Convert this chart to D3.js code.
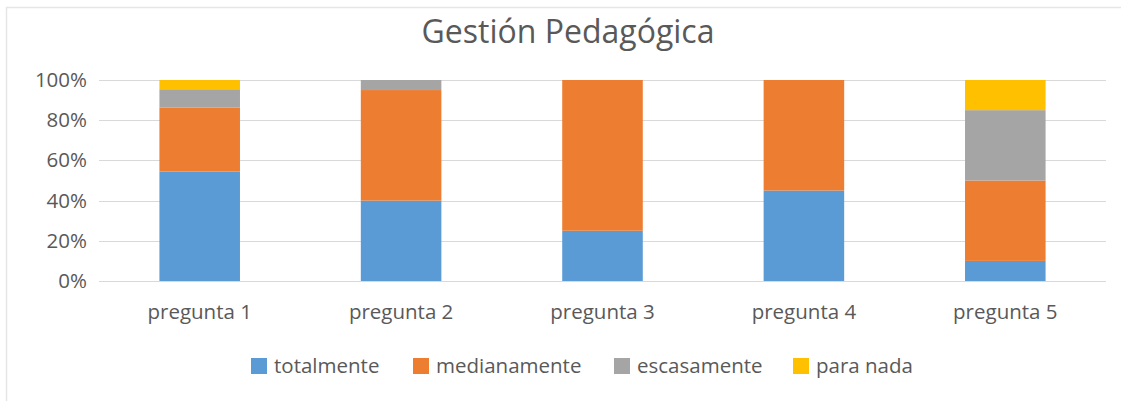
<!DOCTYPE html>
<html>
<head>
<meta charset="utf-8">
<script src="https://cdn.jsdelivr.net/npm/d3@7"></script>
<style>
  body { margin: 0; background: #fff; }
  text { font-family: "Open Sans", "Noto Sans", sans-serif; fill: #595959; }
</style>
</head>
<body>
<div id="grafica"></div>
<script>
// datos
const titulo = "Gestión Pedagógica";
const preguntas = ["pregunta 1", "pregunta 2", "pregunta 3", "pregunta 4", "pregunta 5"];
const series = ["totalmente", "medianamente", "escasamente", "para nada"];
const totalmente   = [54.5, 40, 25, 45, 10];
const medianamente = [31.8, 55, 75, 55, 40];
const escasamente  = [9.1, 5, 0, 0, 35];
const paraNada     = [4.6, 0, 0, 0, 15];
const yTicks = [0, 20, 40, 60, 80, 100];

const colores = ["#5b9bd5", "#ed7d31", "#a5a5a5", "#ffc000"];

const width = 1121, height = 401;
const plot = { left: 99, right: 1106, top: 80, bottom: 281 };
const fontSize = 20.5;

const svg = d3.select("#grafica").append("svg")
  .attr("width", width)
  .attr("height", height);

// borde del area del grafico
svg.append("path")
  .attr("d", `M6.5,${height} V7.5 H${width}`)
  .attr("fill", "none")
  .attr("stroke", "#e6e6e6")
  .attr("stroke-width", 1.5);

// tabla para el stack
const tabla = preguntas.map((p, i) => ({
  pregunta: p,
  "totalmente": totalmente[i],
  "medianamente": medianamente[i],
  "escasamente": escasamente[i],
  "para nada": paraNada[i]
}));

const xScale = d3.scaleBand()
  .domain(preguntas)
  .range([plot.left, plot.right])
  .paddingInner(0.6)
  .paddingOuter(0.3);

const yScale = d3.scaleLinear()
  .domain([0, 100])
  .range([plot.bottom, plot.top]);

const color = d3.scaleOrdinal().domain(series).range(colores);

// lineas de cuadricula
svg.append("g")
  .selectAll("line")
  .data(yTicks).enter()
  .append("line")
  .attr("x1", plot.left)
  .attr("x2", plot.right)
  .attr("y1", d => Math.round(yScale(d)) + 0.5)
  .attr("y2", d => Math.round(yScale(d)) + 0.5)
  .attr("stroke", "#d9d9d9")
  .attr("stroke-width", 1.2);

// eje Y
const yAxis = d3.axisLeft(yScale)
  .tickValues(yTicks)
  .tickFormat(d => d + "%")
  .tickSize(0)
  .tickPadding(12);

svg.append("g")
  .attr("transform", `translate(${plot.left}, 0)`)
  .call(yAxis)
  .call(g => g.select(".domain").remove())
  .selectAll("text")
  .attr("font-size", fontSize)
  .style("font-family", "\"Open Sans\", sans-serif")
  .attr("fill", "#595959");

// barras apiladas
const stack = d3.stack().keys(series);
const capas = stack(tabla);

svg.append("g")
  .selectAll("g")
  .data(capas).enter()
  .append("g")
  .attr("fill", d => color(d.key))
  .selectAll("rect")
  .data(d => d).enter()
  .append("rect")
  .attr("x", d => xScale(d.data.pregunta))
  .attr("width", xScale.bandwidth())
  .attr("y", d => yScale(d[1]))
  .attr("height", d => yScale(d[0]) - yScale(d[1]));

// eje X
const xAxis = d3.axisBottom(xScale).tickSize(0).tickPadding(23);
svg.append("g")
  .attr("transform", `translate(0, ${plot.bottom})`)
  .call(xAxis)
  .call(g => g.select(".domain").remove())
  .selectAll("text")
  .attr("font-size", fontSize)
  .style("font-family", "\"Open Sans\", sans-serif")
  .attr("fill", "#595959");

// titulo
svg.append("text")
  .attr("x", 568)
  .attr("y", 43)
  .attr("text-anchor", "middle")
  .attr("font-size", 32)
  .text(titulo);

// leyenda
const leyendaX = [251, 413, 614, 793];
const leyenda = svg.append("g");
series.forEach((s, i) => {
  leyenda.append("rect")
    .attr("x", leyendaX[i])
    .attr("y", 358)
    .attr("width", 16)
    .attr("height", 16)
    .attr("fill", color(s));
  leyenda.append("text")
    .attr("x", leyendaX[i] + 23)
    .attr("y", 373)
    .attr("font-size", fontSize)
    .text(s);
});
</script>
</body>
</html>
